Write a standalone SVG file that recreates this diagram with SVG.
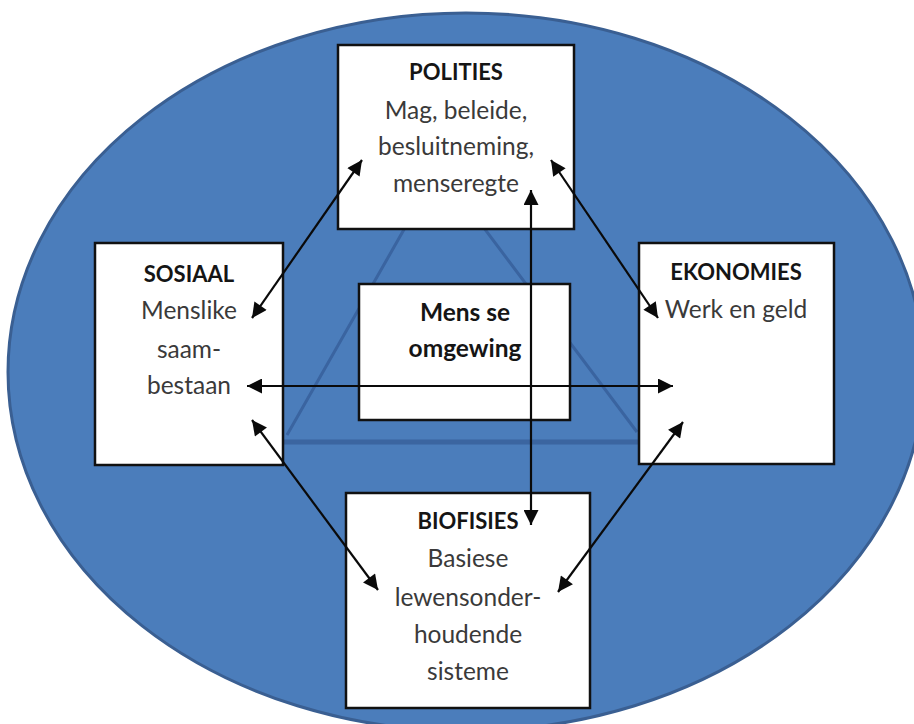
<svg xmlns="http://www.w3.org/2000/svg" width="914" height="724" viewBox="0 0 914 724">
<style>
.box{fill:#ffffff;stroke:#111111;stroke-width:2.5}
.t{font-family:Lato,"Open Sans","Liberation Sans",sans-serif;font-size:24.5px;text-anchor:middle;fill:#3a3a3a}
.b{font-weight:bold;fill:#151515;font-size:22px}
.m{font-size:24.5px}
.c{stroke:#0a0a0a;stroke-width:2.2;fill:none;marker-start:url(#ah);marker-end:url(#ah)}
.tri{stroke:#3a64a0;stroke-width:3;fill:none}
</style>
<defs>
<marker id="ah" viewBox="0 0 10 10" refX="10" refY="5" markerUnits="userSpaceOnUse" markerWidth="18" markerHeight="15" orient="auto-start-reverse">
<path d="M0,0 L10,5 L0,10 z" fill="#0a0a0a"/>
</marker>
</defs>
<rect width="914" height="724" fill="#ffffff"/>
<g id="background">
<ellipse cx="466" cy="372" rx="458" ry="359" fill="#4b7dbb" stroke="#3a5f92" stroke-width="3"/>
<polyline class="tri" points="287,435 439,168 637,432"/>
<line x1="284" y1="442" x2="640" y2="442" stroke="#3b65a0" stroke-width="5"/>
</g>
<g id="polities">
<rect class="box" x="338" y="45" width="236" height="184"/>
<text class="t b" x="456" y="80">POLITIES</text>
<text class="t" x="456" y="119">Mag, beleide,</text>
<text class="t" x="456" y="155">besluitneming,</text>
<text class="t" x="456" y="192">menseregte</text>
</g>
<g id="sosiaal">
<rect class="box" x="95" y="243" width="188" height="222"/>
<text class="t b" x="189" y="282">SOSIAAL</text>
<text class="t" x="189" y="319">Menslike</text>
<text class="t" x="189" y="358">saam-</text>
<text class="t" x="189" y="394">bestaan</text>
</g>
<g id="ekonomies">
<rect class="box" x="639" y="243" width="195" height="221"/>
<text class="t b" x="736" y="280">EKONOMIES</text>
<text class="t" x="736" y="318">Werk en geld</text>
</g>
<g id="omgewing">
<rect class="box" x="359" y="284" width="211" height="136"/>
<text class="t b m" x="465" y="321">Mens se</text>
<text class="t b m" x="465" y="357">omgewing</text>
</g>
<g id="biofisies">
<rect class="box" x="346" y="493" width="244" height="215"/>
<text class="t b" x="468" y="529">BIOFISIES</text>
<text class="t" x="468" y="567">Basiese</text>
<text class="t" x="468" y="606">lewensonder-</text>
<text class="t" x="468" y="643">houdende</text>
<text class="t" x="468" y="680">sisteme</text>
</g>
<g id="connectors">
<line class="c" x1="252" y1="318" x2="362" y2="160"/>
<line class="c" x1="551" y1="160" x2="658" y2="318"/>
<line class="c" x1="531" y1="190" x2="531" y2="525"/>
<line class="c" x1="247" y1="386" x2="673" y2="386"/>
<line class="c" x1="252" y1="420" x2="378" y2="590"/>
<line class="c" x1="683" y1="422" x2="558" y2="592"/>
</g>
</svg>
